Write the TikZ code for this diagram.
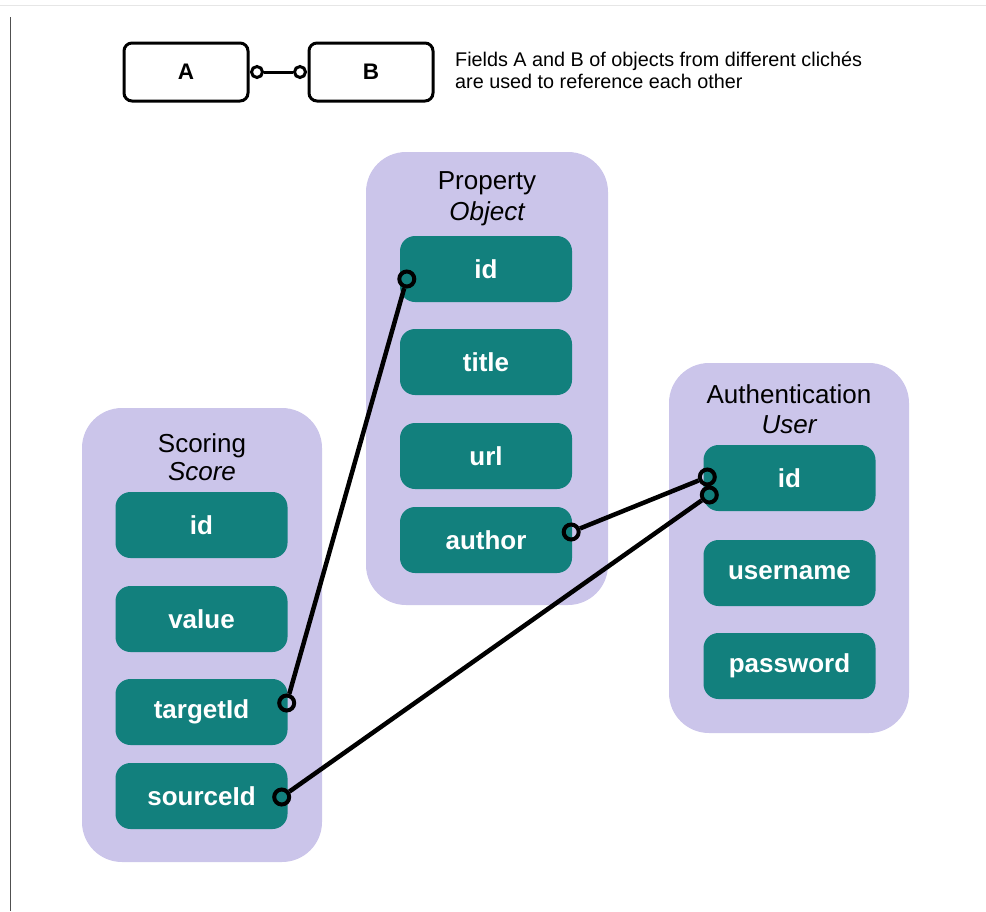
\documentclass[tikz,border=0pt]{standalone}
\usepackage{fontspec}
\setmainfont{Liberation Sans}
\usetikzlibrary{calc}
\definecolor{lav}{RGB}{203,197,234}
\definecolor{teal}{RGB}{18,128,125}
\definecolor{edgegray}{RGB}{230,230,230}
\definecolor{sidegray}{RGB}{80,80,80}
\begin{document}
\begin{tikzpicture}[x=1pt,y=-1pt,
  container/.style={fill=lav, draw=none, rounded corners=40pt, inner sep=0pt},
  field/.style={fill=teal, draw=none, rounded corners=15pt, minimum width=172pt,
    minimum height=66pt, inner sep=0pt, text=white,
    font=\fontsize{26}{30}\selectfont\bfseries},
  head/.style={anchor=base, font=\fontsize{26}{30}\selectfont},
  legbox/.style={draw=black, line width=3pt, rounded corners=8pt, minimum width=124pt,
    minimum height=58pt, inner sep=0pt, font=\fontsize{22.5}{26}\selectfont\bfseries},
  legtext/.style={anchor=base west, font=\fontsize{19.8}{24}\selectfont, inner sep=0pt},
  port/.style={circle, draw=black, line width=4pt, minimum size=15pt, inner sep=0pt},
  legport/.style={circle, draw=black, line width=3pt, minimum size=11pt, inner sep=0pt},
  link/.style={draw=black, line width=4.5pt},
  leglink/.style={draw=black, line width=3pt}]

\useasboundingbox (0,0) rectangle (986,911);

% page edges
\draw[edgegray, line width=1pt] (0,5) -- (986,5);
\draw[sidegray, line width=1pt] (10,17) -- (10,911);

% legend
\node[legbox] (la) at (186,72) {A};
\node[legbox] (lb) at (371,72) {B};
\node[legport] (lpa) at (257,72) {};
\node[legport] (lpb) at (300,72) {};
\draw[leglink] (lpa) -- (lpb);
\node[legtext] (lt1) at (455,66) {Fields A and B of objects from different clichés};
\node[legtext] (lt2) at (455,88) {are used to reference each other};

% containers
\node[container, minimum width=242pt, minimum height=453pt] (prop) at (487,378.5) {};
\node[container, minimum width=240pt, minimum height=454pt] (scor) at (202,635) {};
\node[container, minimum width=240pt, minimum height=370pt] (auth) at (789,548) {};

% headers
\node[head] (proph) at (487,189) {Property};
\node[head] (propt) at (487,220) {\itshape Object};
\node[head] (scorh) at (202,452) {Scoring};
\node[head] (scort) at (202,480) {\itshape Score};
\node[head] (authh) at (789,403) {Authentication};
\node[head] (autht) at (789,433) {\itshape User};

% Property fields
\node[field] (pid) at (486,269) {id};
\node[field] (ptitle) at (486,362) {title};
\node[field] (purl) at (486,456) {url};
\node[field] (pauthor) at (486,540) {author};

% Scoring fields
\node[field] (sid) at (201.5,525) {id};
\node[field] (svalue) at (201.5,619) {value};
\node[field] (starget) at (201.5,712) {targetId};
\node[field] (ssource) at (201.5,796) {sourceId};

% Authentication fields
\node[field] (aid) at (789.5,478) {id};
\node[field] (auser) at (789.5,573) {username};
\node[field] (apass) at (789.5,666) {password};

% reference ports
\node[port] (p1) at ($(pid.west)+(7,10)$) {};
\node[port] (p2) at ($(starget.east)+(-1,-9)$) {};
\node[port] (p3) at ($(pauthor.east)+(-1,-8)$) {};
\node[port] (p4) at ($(aid.west)+(4,-1)$) {};
\node[port] (p5) at ($(aid.west)+(6,17)$) {};
\node[port] (p6) at ($(ssource.east)+(-6,1)$) {};

% references
\draw[link] (p1) -- (p2);
\draw[link] (p3) -- (p4);
\draw[link] (p6) -- (p5);
\end{tikzpicture}
\end{document}
